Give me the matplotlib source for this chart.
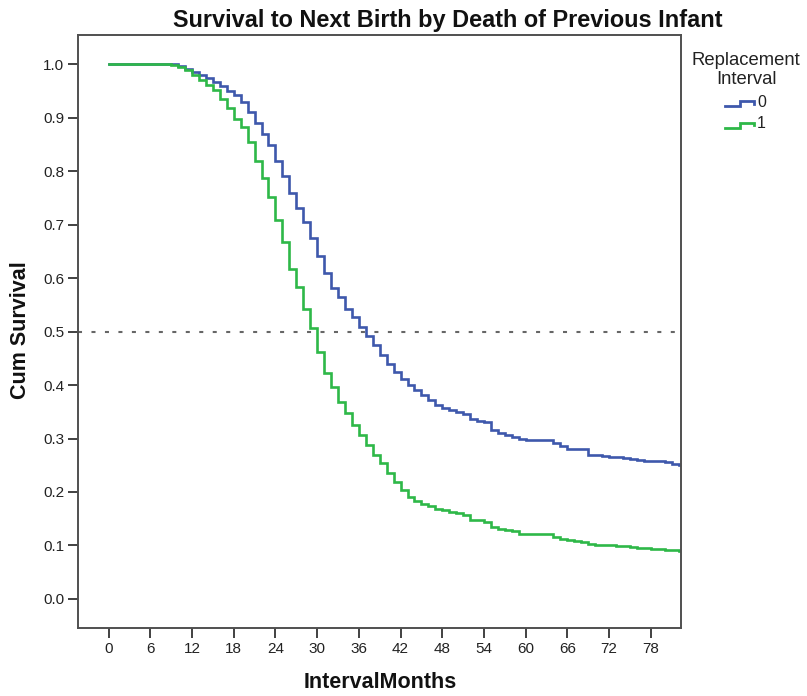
import matplotlib
matplotlib.use("Agg")
import matplotlib.pyplot as plt
from matplotlib.lines import Line2D

plt.rcParams["font.family"] = ["Liberation Sans", "DejaVu Sans"]

# Kaplan-Meier estimates by month, one value per interval [m, m+1)
months = list(range(0, 84))
surv_0 = [1.0] * 10 + [
    0.997, 0.992, 0.986, 0.980, 0.974, 0.967, 0.959, 0.951, 0.943, 0.930,
    0.911, 0.891, 0.870, 0.849, 0.819, 0.791, 0.759, 0.732, 0.705, 0.676,
    0.642, 0.610, 0.581, 0.564, 0.543, 0.527, 0.508, 0.492, 0.475, 0.456,
    0.440, 0.425, 0.412, 0.400, 0.390, 0.381, 0.372, 0.362, 0.357, 0.353,
    0.350, 0.345, 0.336, 0.333, 0.331, 0.316, 0.311, 0.307, 0.303, 0.299,
    0.297, 0.297, 0.297, 0.297, 0.291, 0.286, 0.281, 0.280, 0.280, 0.269,
    0.269, 0.268, 0.266, 0.265, 0.263, 0.262, 0.260, 0.258, 0.258, 0.257,
    0.256, 0.252, 0.250, 0.250,
]
surv_1 = [1.0] * 9 + [
    0.998, 0.995, 0.989, 0.980, 0.971, 0.961, 0.952, 0.936, 0.918, 0.897, 0.883,
    0.855, 0.820, 0.788, 0.752, 0.708, 0.668, 0.618, 0.584, 0.543, 0.506,
    0.462, 0.422, 0.397, 0.369, 0.347, 0.325, 0.306, 0.288, 0.269, 0.254,
    0.235, 0.219, 0.203, 0.191, 0.184, 0.178, 0.173, 0.169, 0.166, 0.163,
    0.160, 0.157, 0.147, 0.147, 0.144, 0.135, 0.131, 0.128, 0.126, 0.121,
    0.121, 0.121, 0.121, 0.121, 0.116, 0.112, 0.110, 0.108, 0.107, 0.102,
    0.101, 0.101, 0.100, 0.099, 0.098, 0.097, 0.096, 0.095, 0.094, 0.093,
    0.092, 0.091, 0.090, 0.090,
]
group_labels = ["0", "1"]
group_colors = ["#3E58AC", "#2EB848"]
legend_title = ["Replacement", "Interval"]
x_ticks = list(range(0, 79, 6))
y_ticks = [i / 10 for i in range(0, 11)]
median_level = 0.5

W, H = 807, 696
fig = plt.figure(figsize=(W / 100, H / 100), dpi=100)
ax = fig.add_axes([78 / W, 1 - 627.7 / H, (680.7 - 78) / W, (627.7 - 35) / H])

for surv, lab, col in zip([surv_0, surv_1], group_labels, group_colors):
    ax.plot(months, surv, drawstyle="steps-post", color=col, lw=1.9,
            label=lab, solid_joinstyle="miter")

lw_ref = 1.5
ax.axhline(median_level, color="#666666", lw=lw_ref,
           linestyle=(0, (2.9 / lw_ref, 6.8 / lw_ref)), zorder=1)

ax.set_xlim(-4.4, 82.3)
ax.set_ylim(-0.054, 1.055)
ax.set_xticks(x_ticks)
ax.set_xticklabels([str(t) for t in x_ticks])
ax.set_yticks(y_ticks)
ax.set_yticklabels([f"{t:.1f}" for t in y_ticks])
ax.tick_params(axis="both", direction="out", length=7, width=1.3,
               color="#333333", labelsize=11, labelcolor="#222222", pad=3)
for sp in ax.spines.values():
    sp.set_color("#505050")
    sp.set_linewidth(1.4)

fig.text(448 / W, 1 - 27.3 / H, "Survival to Next Birth by Death of Previous Infant",
         ha="center", va="baseline", fontsize=16.9, fontweight="bold", color="#111111")
fig.text(380 / W, 1 - 683 / H, "IntervalMonths", ha="center", va="center",
         fontsize=15.5, fontweight="bold", color="#111111")
fig.text(20.5 / W, 1 - 330 / H, "Cum Survival", ha="center", va="center",
         rotation=90, fontsize=15.5, fontweight="bold", color="#111111")

# Legend: title lines, then a small step glyph and label per group
for line_txt, base_y in zip(legend_title, [65, 83.5]):
    fig.text(746 / W, 1 - base_y / H, line_txt, ha="center", va="baseline",
             fontsize=13.3, color="#222222")

for i, (lab, col) in enumerate(zip(group_labels, group_colors)):
    low = 106 + 21.5 * i
    high = 101 + 21.5 * i
    xs = [725, 740, 740, 754, 754]
    ys = [low, low, high, high, high + 2.5]
    fig.add_artist(Line2D([x / W for x in xs], [1 - y / H for y in ys],
                          transform=fig.transFigure, color=col, lw=2.0,
                          solid_joinstyle="miter"))
    fig.text(757 / W, 1 - (102.5 + 21.5 * i) / H, lab, ha="left", va="center",
             fontsize=11.5, color="#222222")

fig.savefig("out.png", dpi=100)
